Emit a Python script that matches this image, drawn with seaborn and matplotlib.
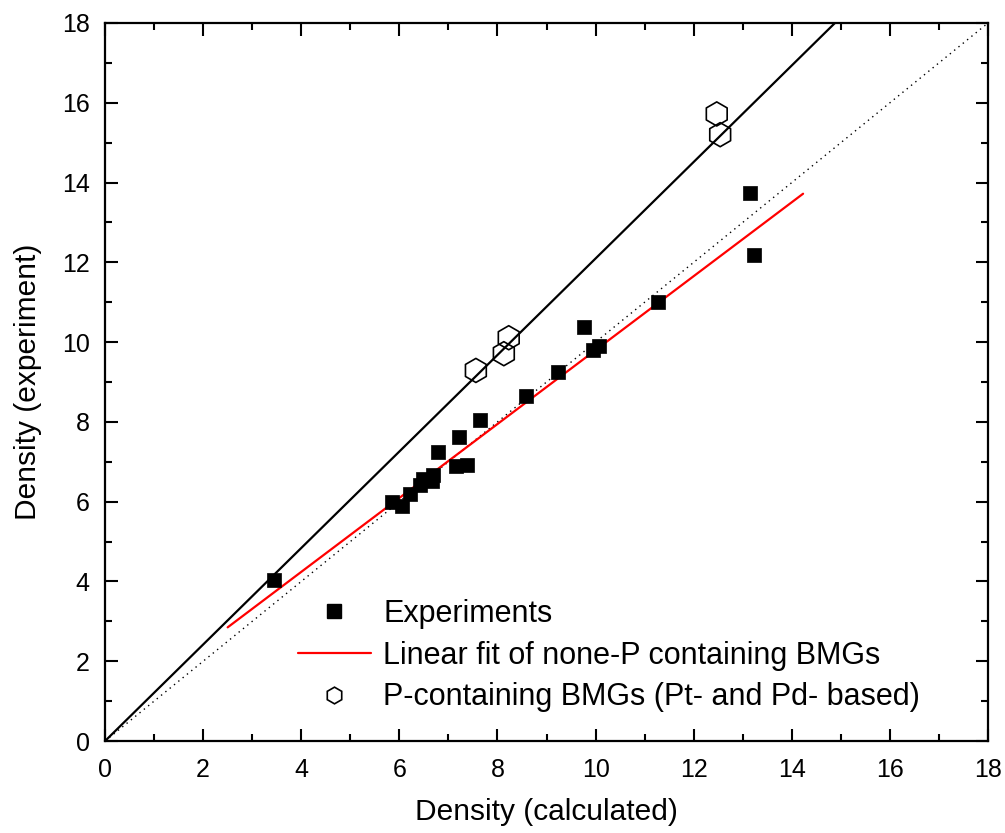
import matplotlib
matplotlib.use("Agg")
import matplotlib.pyplot as plt
from matplotlib.lines import Line2D
from matplotlib.ticker import MultipleLocator
import numpy as np
import pandas as pd
import seaborn as sns

# ── data ──────────────────────────────────────────────────────────────────────
exp_calc = [3.45, 5.85, 6.05, 6.22, 6.42, 6.48, 6.67, 6.69, 6.79, 7.15, 7.38,
            7.22, 7.64, 8.58, 9.23, 9.76, 9.95, 10.07, 11.27, 13.15, 13.23]
exp_meas = [4.03, 6.00, 5.88, 6.20, 6.41, 6.58, 6.53, 6.66, 7.24, 6.89, 6.91,
            7.61, 8.06, 8.64, 9.24, 10.39, 9.79, 9.91, 11.00, 13.75, 12.19]

p_calc = [7.56, 8.13, 8.23, 12.47, 12.54]
p_meas = [9.29, 9.71, 10.11, 15.72, 15.20]

# linear fit of none-P BMGs
fit_x = [2.50, 14.23]
fit_y = [2.85, 13.72]

# line through the P-containing BMGs
p_line_x = [0.0, 14.88]
p_line_y = [0.0, 18.0]

# y = x reference
unity = [0.0, 18.0]

# ── style ─────────────────────────────────────────────────────────────────────
sns.set_style("ticks")
plt.rcParams["font.family"] = ["Liberation Sans", "DejaVu Sans"]
plt.rcParams["text.color"] = "black"
plt.rcParams["axes.labelcolor"] = "black"

fig = plt.figure(figsize=(10.05, 8.33), dpi=100)
ax = fig.add_axes([0.1045, 0.1104, 0.8786, 0.8620])

df_exp = pd.DataFrame({"calc": exp_calc, "meas": exp_meas})
df_p = pd.DataFrame({"calc": p_calc, "meas": p_meas})

sns.lineplot(x=unity, y=unity, ax=ax, color="black", lw=1.0,
             linestyle=(0, (1, 3)), estimator=None, sort=False)
sns.lineplot(x=p_line_x, y=p_line_y, ax=ax, color="black", lw=1.6,
             estimator=None, sort=False)
sns.lineplot(x=fit_x, y=fit_y, ax=ax, color="red", lw=1.6,
             estimator=None, sort=False)
sns.scatterplot(data=df_exp, x="calc", y="meas", ax=ax, marker="s", s=95,
                color="black", edgecolor="black", linewidth=0.5, zorder=5)
sns.scatterplot(data=df_p, x="calc", y="meas", ax=ax, marker="h", s=300,
                facecolor="none", edgecolor="black", linewidth=1.2, zorder=6)

ax.set_xlim(0, 18)
ax.set_ylim(0, 18)
ax.xaxis.set_major_locator(MultipleLocator(2))
ax.yaxis.set_major_locator(MultipleLocator(2))
ax.xaxis.set_minor_locator(MultipleLocator(1))
ax.yaxis.set_minor_locator(MultipleLocator(1))
ax.tick_params(which="both", direction="in", top=True, right=True,
               width=1.5, colors="black", labelcolor="black", labelsize=18)
ax.tick_params(axis="x", which="both", pad=12)
ax.tick_params(axis="y", which="both", pad=11)
ax.tick_params(which="major", length=9)
ax.tick_params(which="minor", length=5)
for sp in ax.spines.values():
    sp.set_visible(True)
    sp.set_linewidth(1.6)
    sp.set_color("black")

ax.set_xlabel("Density (calculated)", fontsize=21.5, labelpad=12, color="black")
ax.set_ylabel("Density (experiment)", fontsize=21.5, labelpad=14, color="black")

handles = [
    Line2D([], [], ls="none", marker="s", ms=10, color="black"),
    Line2D([], [], color="red", lw=1.6),
    Line2D([], [], ls="none", marker="h", ms=12, mfc="none", mec="black", mew=1.2),
]
labels = ["Experiments", "Linear fit of none-P containing BMGs",
          "P-containing BMGs (Pt- and Pd- based)"]
leg = ax.legend(handles, labels, loc="lower left", bbox_to_anchor=(0.218, 0.04),
                frameon=False, fontsize=22, handlelength=2.4, handletextpad=0.4,
                labelspacing=0.38, borderpad=0, borderaxespad=0)
for t in leg.get_texts():
    t.set_color("black")

fig.savefig("out.png", dpi=100)
